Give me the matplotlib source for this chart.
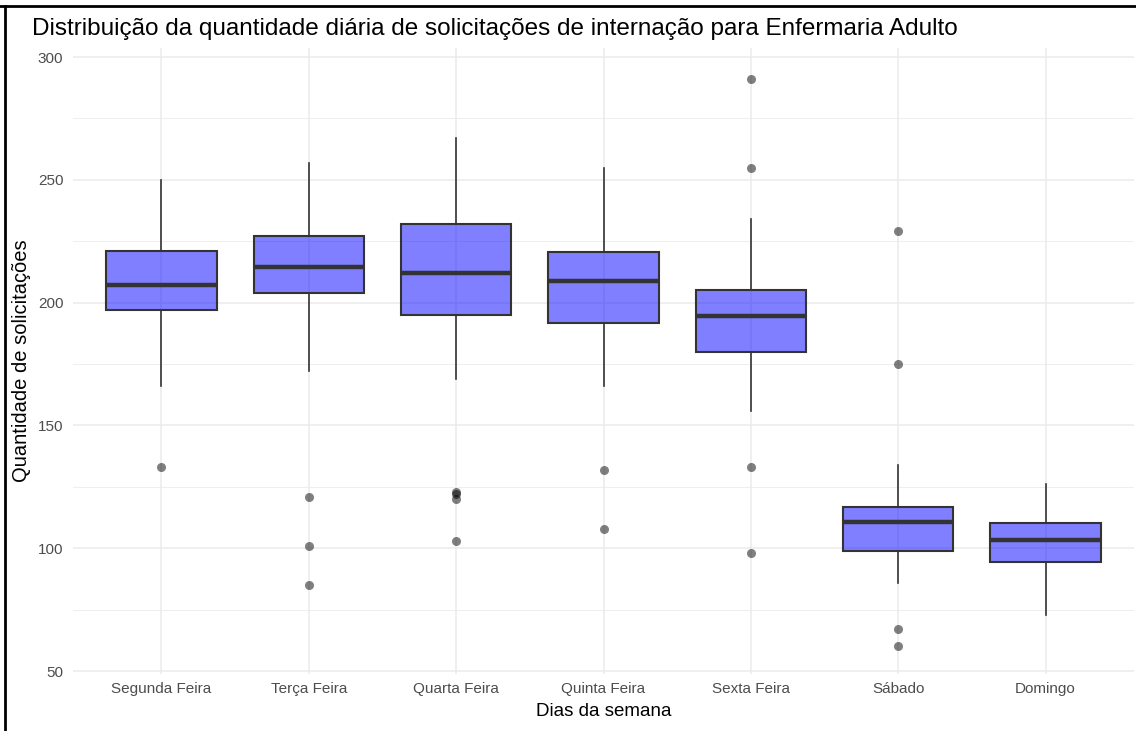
import matplotlib
matplotlib.use("Agg")
import matplotlib.pyplot as plt
from matplotlib.lines import Line2D
from matplotlib.ticker import MultipleLocator

plt.rcParams['font.family'] = ['Liberation Sans', 'DejaVu Sans']

dias = ["Segunda Feira", "Terça Feira", "Quarta Feira", "Quinta Feira",
        "Sexta Feira", "Sábado", "Domingo"]
whislo = [166, 172, 169, 166, 156, 86, 73]
q1 = [197, 204, 195, 191.6, 180, 98.7, 94.5]
med = [207, 214.5, 212, 209, 194.5, 110.8, 103.3]
q3 = [221.2, 227.2, 232, 220.5, 205.2, 116.9, 110.1]
whishi = [250, 257, 267, 255, 234, 134, 126]
outliers = [[133], [121, 101, 85], [123, 122, 120, 103], [132, 108],
            [291, 255, 133, 98], [229, 175, 67, 60], []]

title = "Distribuição da quantidade diária de solicitações de internação para Enfermaria Adulto"
xlabel = "Dias da semana"
ylabel = "Quantidade de solicitações"

stats = [dict(label=d, whislo=a, q1=b, med=c, q3=e, whishi=f, fliers=g)
         for d, a, b, c, e, f, g in zip(dias, whislo, q1, med, q3, whishi, outliers)]

W, H = 1136, 731
fig = plt.figure(figsize=(W / 100, H / 100), dpi=100)
fig.patch.set_facecolor('white')
ax = fig.add_axes([73 / W, 1 - 674 / H, (1134 - 73) / W, (674 - 48) / H])

ax.bxp(stats, positions=list(range(len(dias))), widths=0.75, patch_artist=True,
       showcaps=False,
       boxprops=dict(facecolor=(0, 0, 1, 0.5), edgecolor='#333333', linewidth=1.5),
       medianprops=dict(color='#333333', linewidth=3.2, solid_capstyle='butt'),
       whiskerprops=dict(color='#333333', linewidth=1.2),
       flierprops=dict(marker='o', markerfacecolor=(0, 0, 0, 0.5),
                       markeredgecolor='none', markersize=6.5))

ax.set_xlim(-0.6, len(dias) - 1 + 0.6)
ax.set_ylim(48.8, 303.7)
ax.yaxis.set_major_locator(MultipleLocator(50))
ax.yaxis.set_minor_locator(MultipleLocator(25))
ax.set_xticks(list(range(len(dias))))
ax.set_xticklabels(dias)

ax.set_axisbelow(True)
ax.grid(which='major', color='#EBEBEB', linewidth=1.1)
ax.grid(which='minor', axis='y', color='#EBEBEB', linewidth=0.6)
for s in ax.spines.values():
    s.set_visible(False)
ax.tick_params(which='both', length=0)
ax.tick_params(axis='y', pad=7, labelsize=11, labelcolor='#4D4D4D')
ax.tick_params(axis='x', pad=6, labelsize=11, labelcolor='#4D4D4D')

ax.set_xlabel(xlabel, fontsize=13.5, color='black', labelpad=5)
ax.set_ylabel(ylabel, fontsize=14.5, color='black', labelpad=5)

fig.text(32 / W, 1 - 29 / H, title, fontsize=17.5, color='black',
         ha='left', va='center')

# screenshot frame
fig.add_artist(Line2D([0, 1], [1 - 6 / H, 1 - 6 / H], transform=fig.transFigure,
                      color='black', linewidth=2))
fig.add_artist(Line2D([5 / W, 5 / W], [0, 1 - 6 / H], transform=fig.transFigure,
                      color='black', linewidth=2))

fig.savefig('out.png', dpi=100)
